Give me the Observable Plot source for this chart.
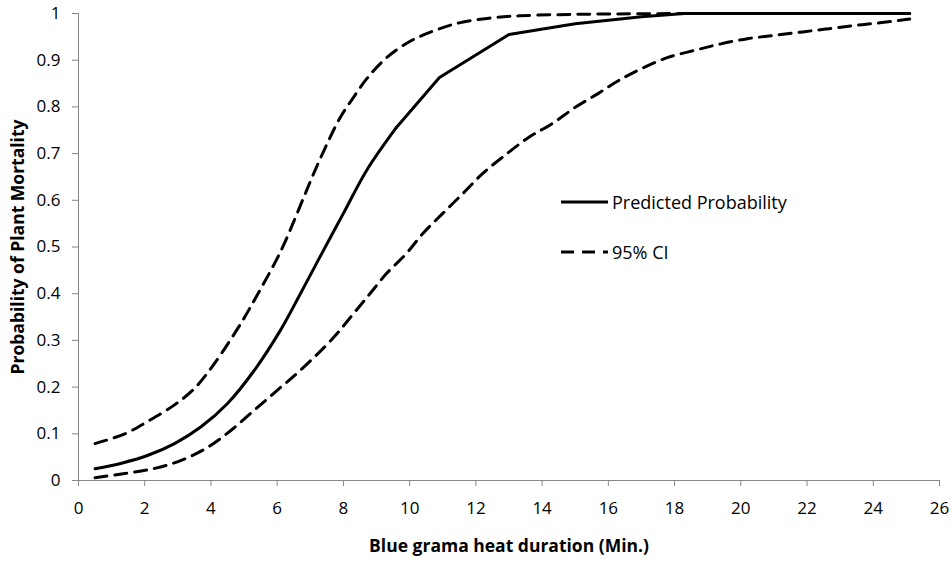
<!DOCTYPE html>
<html>
<head>
<meta charset="utf-8">
<script src="https://cdn.jsdelivr.net/npm/d3@7"></script>
<script src="https://cdn.jsdelivr.net/npm/@observablehq/plot@0.6"></script>
<style>
  html, body { margin: 0; padding: 0; background: #fff; }
  #wrap { position: relative; width: 952px; height: 569px; font-family: "Open Sans", sans-serif; }
  #legend { position: absolute; left: 561px; top: 188px; font-size: 18px; color: #000; }
  .row { display: flex; align-items: center; height: 28px; white-space: nowrap; }
  .row + .row { margin-top: 22px; }
  .row svg { display: block; margin-right: 4px; }
</style>
</head>
<body>
<div id="wrap"><div id="legend"></div></div>
<script>
// Predicted probability
const predX = [0.5, 1.3, 2.1, 2.9, 3.7, 4.5, 5.3, 6.1, 6.7, 7.3, 8.0, 8.7, 9.6, 10.9, 13.0, 15.0, 17.0, 18.3, 25.1];
const predY = [0.025, 0.037, 0.054, 0.079, 0.115, 0.165, 0.235, 0.322, 0.4, 0.48, 0.572, 0.664, 0.756, 0.863, 0.955, 0.978, 0.993, 1, 1];
// Upper 95% CI
const upperX = [0.5, 1.4, 2.1, 2.9, 3.5, 4.1, 4.9, 5.3, 6.1, 6.8, 7.1, 7.5, 7.9, 8.3, 8.7, 9.3, 10.0, 10.7, 11.5, 12.4, 13.3, 16.0, 25.1];
const upperY = [0.079, 0.1, 0.127, 0.162, 0.197, 0.25, 0.336, 0.385, 0.49, 0.606, 0.657, 0.72, 0.777, 0.82, 0.86, 0.905, 0.94, 0.962, 0.98, 0.99, 0.995, 0.999, 1];
// Lower 95% CI
const lowerX = [0.5, 1.4, 2.3, 3.1, 3.9, 4.6, 5.3, 6.0, 6.7, 7.7, 8.3, 8.8, 9.3, 9.9, 10.4, 11.0, 11.6, 12.2, 12.8, 13.6, 14.3, 15.0, 15.7, 16.3, 17.0, 17.8, 18.6, 19.4, 20.2, 21.0, 21.8, 22.6, 23.4, 24.2, 25.1];
const lowerY = [0.006, 0.015, 0.026, 0.043, 0.071, 0.107, 0.15, 0.193, 0.236, 0.306, 0.357, 0.4, 0.443, 0.486, 0.529, 0.572, 0.614, 0.657, 0.692, 0.735, 0.764, 0.799, 0.829, 0.856, 0.882, 0.906, 0.921, 0.935, 0.946, 0.953, 0.96, 0.967, 0.974, 0.98, 0.988];

const xTicks = [0, 2, 4, 6, 8, 10, 12, 14, 16, 18, 20, 22, 24, 26];
const yTicks = [0, 0.1, 0.2, 0.3, 0.4, 0.5, 0.6, 0.7, 0.8, 0.9, 1];
const xTitle = "Blue grama heat duration (Min.)";
const yTitle = "Probability of Plant Mortality";
const seriesNames = ["Predicted Probability", "95% CI"];

const toRows = (xs, ys) => xs.map((x, i) => ({x, y: ys[i]}));
const pred = toRows(predX, predY);
const upper = toRows(upperX, upperY);
const lower = toRows(lowerX, lowerY);
// the smooth lower part of the predicted curve and the straight-segment upper part
const kneeIndex = predX.indexOf(9.6);
const predSmooth = pred.slice(0, kneeIndex + 1);
const predKnees = pred.slice(kneeIndex);

const axisGray = "#868686";
const DASH = "12,8";

const chart = Plot.plot({
  width: 952,
  height: 569,
  marginLeft: 78,
  marginRight: 13,
  marginTop: 13,
  marginBottom: 89,
  style: {fontFamily: "'Open Sans', sans-serif", fontSize: "17px", color: "#000", background: "#fff"},
  x: {domain: [0, 26]},
  y: {domain: [0, 1]},
  marks: [
    Plot.axisX({ticks: xTicks, tickSize: 6, tickPadding: 15, stroke: axisGray, fill: "#000", fontSize: 17, label: null, tickFormat: d => String(d)}),
    Plot.axisY({ticks: yTicks, tickSize: 6, tickPadding: 12, stroke: axisGray, fill: "#000", fontSize: 17, label: null, tickFormat: d => String(+d.toFixed(1))}),
    Plot.ruleY([0], {stroke: axisGray, strokeWidth: 1}),
    Plot.ruleX([0], {stroke: axisGray, strokeWidth: 1}),
    Plot.line(upper, {x: "x", y: "y", stroke: "#000", strokeWidth: 3, strokeDasharray: DASH, curve: "catmull-rom"}),
    Plot.line(lower, {x: "x", y: "y", stroke: "#000", strokeWidth: 3, strokeDasharray: DASH, curve: "catmull-rom"}),
    Plot.line(predSmooth, {x: "x", y: "y", stroke: "#000", strokeWidth: 3, curve: "catmull-rom"}),
    Plot.line(predKnees, {x: "x", y: "y", stroke: "#000", strokeWidth: 3, strokeLinejoin: "round"}),
    Plot.text([xTitle], {frameAnchor: "bottom", dy: 66, text: d => d, fontWeight: "bold", fontSize: 17.5, fill: "#000", textAnchor: "middle", lineAnchor: "middle"}),
    Plot.text([yTitle], {frameAnchor: "left", dx: -60, rotate: -90, text: d => d, fontWeight: "bold", fontSize: 17.5, fill: "#000", textAnchor: "middle", lineAnchor: "middle"})
  ]
});
chart.style.position = "absolute";
chart.style.left = "0px";
chart.style.top = "0px";
const wrap = document.getElementById("wrap");
wrap.insertBefore(chart, wrap.firstChild);

const legend = document.getElementById("legend");
seriesNames.forEach((name, i) => {
  const row = document.createElement("div");
  row.className = "row";
  const ns = "http://www.w3.org/2000/svg";
  const s = document.createElementNS(ns, "svg");
  s.setAttribute("width", "47");
  s.setAttribute("height", "6");
  const l = document.createElementNS(ns, "line");
  l.setAttribute("x1", "0"); l.setAttribute("x2", "47");
  l.setAttribute("y1", "3"); l.setAttribute("y2", "3");
  l.setAttribute("stroke", "#000"); l.setAttribute("stroke-width", "3");
  if (i === 1) l.setAttribute("stroke-dasharray", "13,8");
  s.appendChild(l);
  row.appendChild(s);
  const t = document.createElement("span");
  t.textContent = name;
  row.appendChild(t);
  legend.appendChild(row);
});
</script>
</body>
</html>
